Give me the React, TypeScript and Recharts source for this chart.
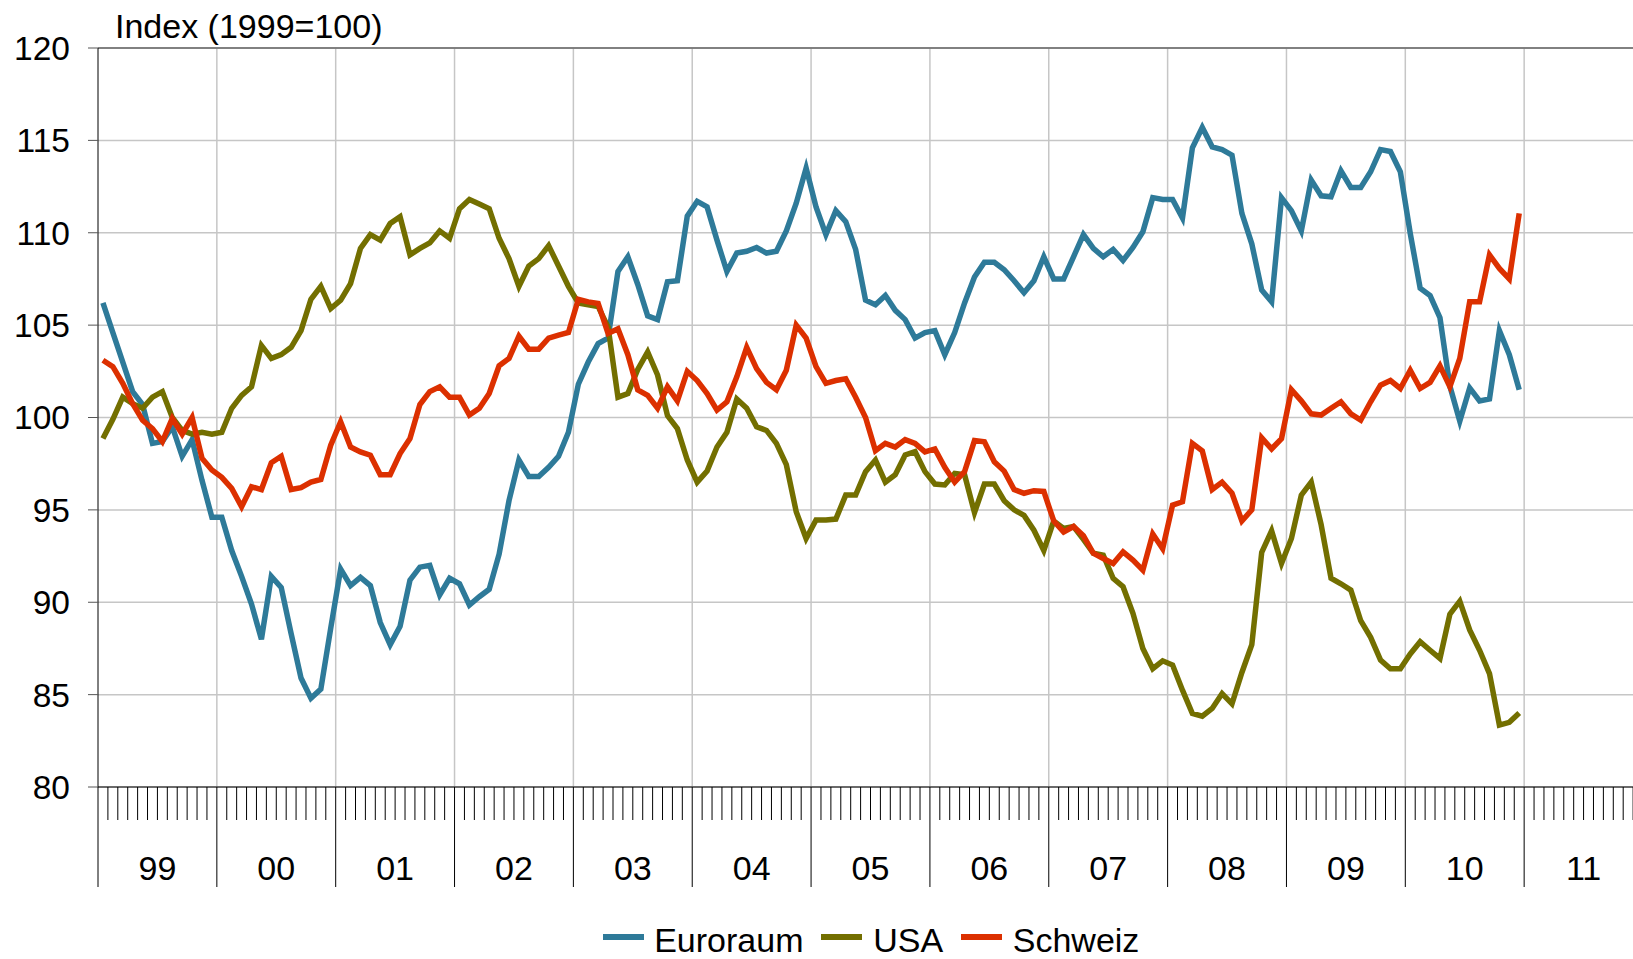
import React from "react";
import {
  LineChart,
  Line,
  XAxis,
  YAxis,
  CartesianGrid,
  ReferenceLine,
  Legend,
} from "recharts";

// monthly index values, Jan 1999 .. Dec 2010
const yearLabels = ["99", "00", "01", "02", "03", "04", "05", "06", "07", "08", "09", "10", "11"];
const yTicks = [80, 85, 90, 95, 100, 105, 110, 115, 120];

const euroraum = [
  106.2, 104.6, 103.0, 101.4, 100.7, 98.6, 98.7, 99.5, 97.9, 98.8, 96.6, 94.6,
  94.6, 92.8, 91.4, 89.9, 88.0, 91.4, 90.8, 88.3, 85.9, 84.8, 85.3, 88.6,
  91.8, 90.9, 91.35, 90.9, 88.9, 87.7, 88.7, 91.2, 91.9, 92.0, 90.4, 91.3,
  91.0, 89.85, 90.3, 90.7, 92.6, 95.5, 97.7, 96.8, 96.8, 97.3, 97.9, 99.2,
  101.8, 103.0, 104.0, 104.3, 107.9, 108.7, 107.2, 105.5, 105.3, 107.35, 107.4, 110.9,
  111.7, 111.4, 109.6, 107.9, 108.9, 109.0, 109.2, 108.9, 109.0, 110.1, 111.6, 113.5,
  111.4, 109.9, 111.2, 110.6, 109.1, 106.35, 106.1, 106.6, 105.8, 105.3, 104.3, 104.6,
  104.7, 103.4, 104.6, 106.2, 107.6, 108.4, 108.4, 108.0, 107.4, 106.75, 107.4, 108.7,
  107.5, 107.5, 108.7, 109.9, 109.15, 108.7, 109.1, 108.5, 109.2, 110.05, 111.9, 111.8,
  111.8, 110.8, 114.6, 115.7, 114.65, 114.5, 114.2, 111.05, 109.4, 106.9, 106.26, 111.9,
  111.2, 110.1, 112.85, 112.0, 111.95, 113.35, 112.45, 112.45, 113.3, 114.5, 114.4, 113.3,
  109.96, 107.0, 106.6, 105.4, 101.7, 99.8, 101.6, 100.9, 101.0, 104.7, 103.4, 101.5,
];

const usa = [
  98.86, 99.9, 101.1, 100.75, 100.5, 101.1, 101.4, 100.0, 99.3, 99.1, 99.2, 99.1,
  99.2, 100.5, 101.2, 101.66, 103.9, 103.2, 103.4, 103.8, 104.7, 106.4, 107.1, 105.9,
  106.35, 107.25, 109.15, 109.9, 109.6, 110.5, 110.87, 108.8, 109.15, 109.45, 110.1, 109.7,
  111.3, 111.8, 111.55, 111.3, 109.7, 108.6, 107.1, 108.2, 108.6, 109.3, 108.2, 107.1,
  106.2, 106.1, 106.0, 104.9, 101.1, 101.3, 102.6, 103.55, 102.3, 100.1, 99.4, 97.7,
  96.5, 97.1, 98.4, 99.2, 101.0, 100.5, 99.5, 99.3, 98.6, 97.45, 94.9, 93.45,
  94.45, 94.45, 94.5, 95.8, 95.8, 97.07, 97.7, 96.5, 96.9, 97.97, 98.15, 97.07,
  96.4, 96.35, 96.97, 96.9, 94.85, 96.4, 96.4, 95.5, 95.0, 94.7, 93.9, 92.8,
  94.4, 94.0, 94.1, 93.4, 92.65, 92.55, 91.3, 90.84, 89.4, 87.5, 86.4, 86.83,
  86.6, 85.24, 83.98, 83.83, 84.25, 85.06, 84.5, 86.2, 87.7, 92.7, 93.87, 92.1,
  93.45, 95.8, 96.5, 94.2, 91.3, 91.0, 90.66, 89.0, 88.1, 86.87, 86.4, 86.4,
  87.2, 87.86, 87.4, 86.96, 89.36, 90.06, 88.5, 87.4, 86.14, 83.35, 83.5, 84.0,
];

const schweiz = [
  103.1, 102.75, 101.85, 100.75, 99.85, 99.4, 98.7, 99.95, 99.1, 100.0, 97.8, 97.16,
  96.76, 96.16, 95.17, 96.25, 96.1, 97.55, 97.9, 96.1, 96.2, 96.5, 96.65, 98.5,
  99.77, 98.4, 98.14, 97.96, 96.9, 96.9, 98.05, 98.86, 100.7, 101.4, 101.66, 101.1,
  101.1, 100.13, 100.5, 101.3, 102.8, 103.2, 104.4, 103.7, 103.7, 104.3, 104.46, 104.6,
  106.4, 106.26, 106.17, 104.55, 104.8, 103.4, 101.5, 101.2, 100.5, 101.66, 100.9, 102.5,
  102.0, 101.3, 100.4, 100.85, 102.2, 103.8, 102.65, 101.9, 101.5, 102.56, 105.0, 104.3,
  102.75, 101.85, 102.0, 102.1, 101.1, 100.0, 98.2, 98.6, 98.4, 98.8, 98.6, 98.14,
  98.3, 97.3, 96.5, 97.07, 98.75, 98.68, 97.6, 97.1, 96.1, 95.9, 96.04, 96.0,
  94.4, 93.8, 94.1, 93.6, 92.65, 92.37, 92.1, 92.73, 92.28, 91.74, 93.69, 92.9,
  95.26, 95.44, 98.6, 98.2, 96.1, 96.5, 95.9, 94.4, 95.0, 98.9, 98.3, 98.86,
  101.5, 100.9, 100.2, 100.13, 100.5, 100.85, 100.2, 99.86, 100.85, 101.75, 102.0, 101.57,
  102.56, 101.57, 101.9, 102.8, 101.66, 103.2, 106.26, 106.26, 108.8, 108.07, 107.5, 111.05,
];

const series = [
  { key: "euroraum", name: "Euroraum", color: "#2e7a99" },
  { key: "usa", name: "USA", color: "#736f00" },
  { key: "schweiz", name: "Schweiz", color: "#dc3000" },
];

const data = euroraum.map((v, i) => ({
  t: i + 0.5,
  euroraum: v,
  usa: usa[i],
  schweiz: schweiz[i],
}));

const lastMonth = yearLabels.length * 12;
const monthTicks = Array.from({ length: lastMonth + 1 }, (_, i) => i);
const yearLines = monthTicks.filter((m) => m % 12 === 0 && m > 0 && m < lastMonth);

const FONT = "'Liberation Sans', Arial, sans-serif";

function MonthTick(props: any) {
  const { x, y, payload } = props;
  const m = payload.value;
  const isYear = m % 12 === 0;
  return (
    <g>
      <line x1={x} x2={x} y1={y} y2={y + (isYear ? 100 : 33)} stroke="#000" strokeWidth={1} />
      {m % 12 === 6 && (
        <text x={x} y={y + 93} textAnchor="middle" fontSize={34} fill="#000" fontFamily={FONT}>
          {yearLabels[(m - 6) / 12]}
        </text>
      )}
    </g>
  );
}

function LegendBox() {
  return (
    <div style={{ height: 72, position: "relative", fontFamily: FONT }}>
      <div
        style={{
          position: "absolute",
          top: 38,
          left: 602.5,
          display: "flex",
          alignItems: "center",
          height: 30,
        }}
      >
        {series.map((s) => (
          <div key={s.key} style={{ display: "flex", alignItems: "center", marginRight: 18 }}>
            <span
              style={{
                display: "inline-block",
                width: 41,
                height: 6,
                background: s.color,
                marginRight: 10.7,
                position: "relative",
                top: -3,
              }}
            />
            <span style={{ fontSize: 34, color: "#000", lineHeight: "30px" }}>{s.name}</span>
          </div>
        ))}
      </div>
    </div>
  );
}

export default function App() {
  return (
    <div
      style={{
        position: "absolute",
        left: 0,
        top: 0,
        width: 1633,
        height: 959,
        overflow: "hidden",
        background: "#fff",
        fontFamily: FONT,
      }}
    >
      <div style={{ position: "absolute", left: 115, top: 6.5, fontSize: 34, color: "#000", zIndex: 2 }}>
        Index (1999=100)
      </div>
      <LineChart width={1643} height={959} data={data} margin={{ top: 48, right: 0, left: 0, bottom: 0 }}>
        <CartesianGrid vertical={false} stroke="#c6c6c6" strokeWidth={1.5} />
        {yearLines.map((m) => (
          <ReferenceLine key={m} x={m} stroke="#c6c6c6" strokeWidth={1.5} />
        ))}
        <ReferenceLine y={120} stroke="#666" strokeWidth={1.5} />
        <XAxis
          dataKey="t"
          type="number"
          domain={[0, lastMonth]}
          ticks={monthTicks}
          interval={0}
          height={100}
          tickSize={0}
          tickMargin={0}
          tickLine={false}
          axisLine={{ stroke: "#000", strokeWidth: 1 }}
          tick={<MonthTick />}
        />
        <YAxis
          type="number"
          domain={[80, 120]}
          ticks={yTicks}
          interval={0}
          width={98}
          tickSize={10}
          tickMargin={18}
          tickLine={{ stroke: "#555" }}
          axisLine={{ stroke: "#000", strokeWidth: 1 }}
          tick={{ fill: "#000", fontSize: 33.5, fontFamily: FONT }}
        />
        <Legend verticalAlign="bottom" content={() => <LegendBox />} />
        {series.map((s) => (
          <Line
            key={s.key}
            type="linear"
            dataKey={s.key}
            name={s.name}
            stroke={s.color}
            strokeWidth={5.5}
            dot={false}
            isAnimationActive={false}
          />
        ))}
      </LineChart>
    </div>
  );
}
